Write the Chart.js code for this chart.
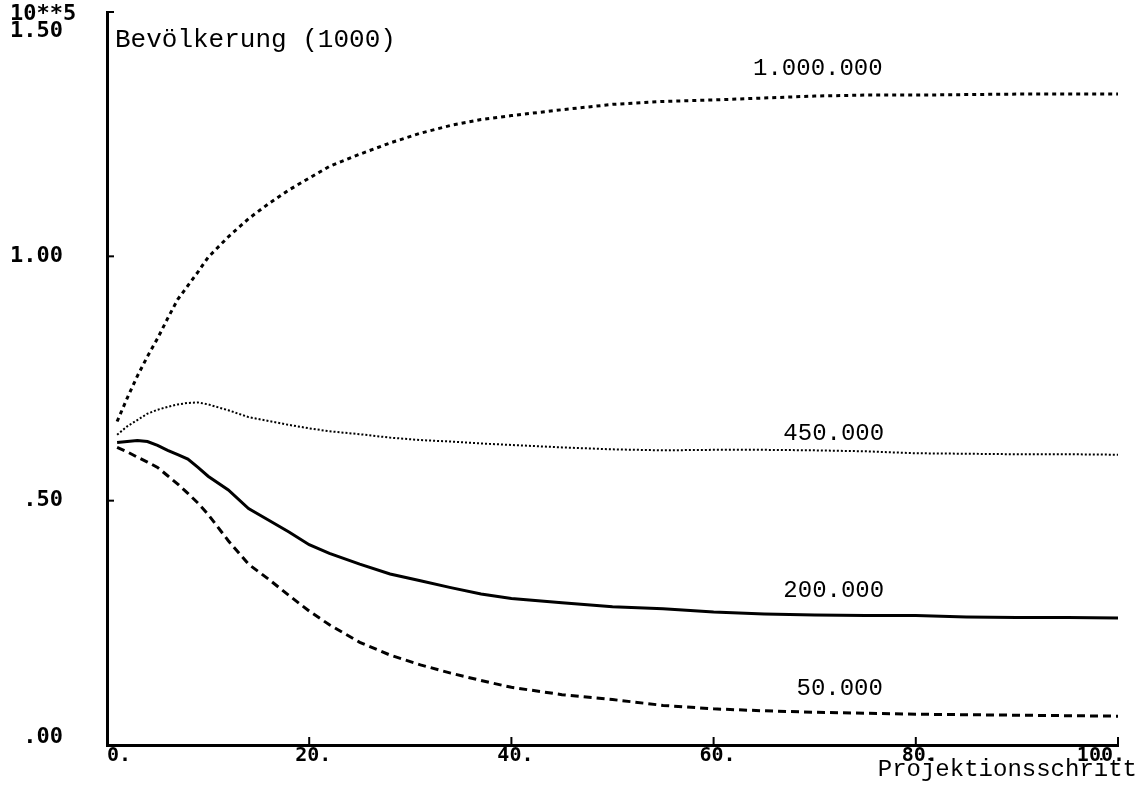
<!DOCTYPE html>
<html>
<head>
<meta charset="utf-8">
<script src="https://cdn.jsdelivr.net/npm/chart.js@4/dist/chart.umd.min.js"></script>
<style>
  html, body { margin: 0; padding: 0; background: #fff; }
  #wrap { width: 1143px; height: 793px; position: relative; }
</style>
</head>
<body>
<div id="wrap"><canvas id="chart"></canvas></div>
<script>
// projection steps (x) and population in 10**5 for each starting size
const steps = [1, 2, 3, 4, 5, 6, 7, 8, 9, 10, 12, 14, 16, 18, 20, 22, 25, 28, 31, 34, 37, 40, 45, 50, 55, 60, 65, 70, 75, 80, 85, 90, 95, 100];

const pop1000000 = [0.662, 0.71, 0.755, 0.795, 0.832, 0.873, 0.912, 0.94, 0.968, 0.998, 1.04, 1.077, 1.108, 1.136, 1.16, 1.184, 1.209, 1.232, 1.252, 1.268, 1.28, 1.288, 1.3, 1.311, 1.317, 1.32, 1.324, 1.328, 1.33, 1.33, 1.331, 1.332, 1.332, 1.332];
const pop450000 = [0.635, 0.652, 0.665, 0.678, 0.686, 0.692, 0.697, 0.7, 0.701, 0.697, 0.685, 0.671, 0.663, 0.655, 0.648, 0.642, 0.636, 0.629, 0.624, 0.621, 0.617, 0.614, 0.609, 0.605, 0.603, 0.604, 0.604, 0.603, 0.601, 0.597, 0.596, 0.595, 0.595, 0.594];
const pop200000 = [0.619, 0.621, 0.623, 0.621, 0.613, 0.603, 0.594, 0.585, 0.568, 0.55, 0.522, 0.484, 0.46, 0.436, 0.41, 0.392, 0.37, 0.35, 0.336, 0.322, 0.309, 0.3, 0.291, 0.283, 0.279, 0.272, 0.268, 0.266, 0.265, 0.265, 0.262, 0.261, 0.261, 0.26];
const pop50000 = [0.609, 0.6, 0.589, 0.579, 0.568, 0.551, 0.534, 0.515, 0.495, 0.472, 0.418, 0.37, 0.339, 0.306, 0.274, 0.246, 0.21, 0.184, 0.164, 0.147, 0.132, 0.118, 0.103, 0.093, 0.081, 0.074, 0.07, 0.067, 0.065, 0.063, 0.062, 0.061, 0.06, 0.059];

const xTicks = [0, 20, 40, 60, 80, 100];
const xTickLabels = ["0.", "20.", "40.", "60.", "80.", "100."];
const yTicks = [0, 0.5, 1.0, 1.5];
const yTickLabels = [".00", ".50", "1.00", "1.50"];

const seriesNames = ["1.000.000", "450.000", "200.000", "50.000"];

function toPoints(vals) {
  return steps.map((x, i) => ({ x: x, y: vals[i] }));
}

// text placed next to each curve, in data units
const curveLabels = [
  { text: "1.000.000", x: 63.9, y: 1.372 },
  { text: "450.000", x: 66.9, y: 0.625 },
  { text: "200.000", x: 66.9, y: 0.303 },
  { text: "50.000", x: 68.2, y: 0.102 }
];

const yLabFont = "bold 22px 'DejaVu Sans Mono'";
const xLabFont = "bold 20px 'DejaVu Sans Mono'";
const mono = "24px 'Liberation Mono'";

const decor = {
  id: "decor",
  afterDraw(chart) {
    const ctx = chart.ctx;
    const xs = chart.scales.x;
    const ys = chart.scales.y;
    const bottom = ys.getPixelForValue(0);
    const left = xs.getPixelForValue(0);
    ctx.save();
    ctx.strokeStyle = "#000";
    ctx.fillStyle = "#000";
    ctx.lineWidth = 2;

    // tick marks inside the plot
    xTicks.forEach((v) => {
      if (v === 0) return;
      const px = xs.getPixelForValue(v);
      ctx.beginPath();
      ctx.moveTo(px, bottom);
      ctx.lineTo(px, bottom - 8);
      ctx.stroke();
    });
    yTicks.forEach((v) => {
      if (v === 0) return;
      const py = ys.getPixelForValue(v);
      ctx.beginPath();
      ctx.moveTo(left, py);
      ctx.lineTo(left + 7, py);
      ctx.stroke();
    });

    // x tick labels
    ctx.font = xLabFont;
    ctx.textBaseline = "middle";
    ctx.textAlign = "left";
    xTicks.forEach((v, i) => {
      const txt = xTickLabels[i];
      const w = ctx.measureText(txt).width;
      let px = xs.getPixelForValue(v) + 4 - w / 2;
      px = Math.max(left, Math.min(px, xs.getPixelForValue(100) + 7 - w));
      ctx.fillText(txt, px, bottom + 11);
    });

    // y tick labels (the top one sits below the 10**5 factor)
    ctx.font = yLabFont;
    ctx.textAlign = "right";
    yTicks.forEach((v, i) => {
      let py = ys.getPixelForValue(v);
      if (v === 0) py -= 8;
      if (v === 1.5) py += 19;
      ctx.fillText(yTickLabels[i], 63, py);
    });
    ctx.textAlign = "left";
    ctx.fillText("10**5", 10, ys.getPixelForValue(1.5) + 2);

    // titles and curve labels
    ctx.textBaseline = "alphabetic";
    ctx.font = "26px 'Liberation Mono'";
    ctx.fillText("Bevölkerung (1000)", 115, 47);
    ctx.font = mono;
    ctx.textAlign = "right";
    ctx.fillText("Projektionsschritt", 1137, 776);
    ctx.textAlign = "left";
    curveLabels.forEach((l) => {
      ctx.fillText(l.text, xs.getPixelForValue(l.x), ys.getPixelForValue(l.y));
    });
    ctx.restore();
  }
};

new Chart(document.getElementById("chart"), {
  type: "line",
  data: {
    datasets: [
      { label: seriesNames[0], data: toPoints(pop1000000), borderColor: "#000", borderWidth: 3, borderDash: [4, 4] },
      { label: seriesNames[1], data: toPoints(pop450000), borderColor: "#000", borderWidth: 2, borderDash: [2, 2] },
      { label: seriesNames[2], data: toPoints(pop200000), borderColor: "#000", borderWidth: 3 },
      { label: seriesNames[3], data: toPoints(pop50000), borderColor: "#000", borderWidth: 3, borderDash: [8, 5] }
    ]
  },
  options: {
    responsive: true,
    maintainAspectRatio: false,
    animation: false,
    layout: { padding: { left: 99, right: 25, top: 12, bottom: 40 } },
    elements: { point: { radius: 0 }, line: { tension: 0 } },
    plugins: { legend: { display: false }, tooltip: { enabled: false } },
    scales: {
      x: {
        type: "linear",
        min: 0,
        max: 100,
        grid: { display: false },
        border: { display: true, color: "#000", width: 3 },
        ticks: { display: false }
      },
      y: {
        type: "linear",
        min: 0,
        max: 1.5,
        grid: { display: false },
        border: { display: true, color: "#000", width: 3 },
        ticks: { display: false }
      }
    }
  },
  plugins: [decor]
});
</script>
</body>
</html>
